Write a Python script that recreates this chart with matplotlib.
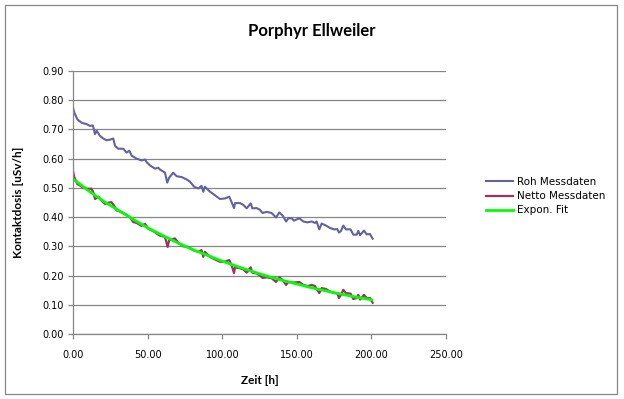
"""
Porphyr Ellweiler: Kontaktdosis ueber Zeit (Roh, Netto, Expon. Fit)

Run: python plot.py
"""

import matplotlib
matplotlib.use("Agg")
import matplotlib.pyplot as plt
from matplotlib.patches import Rectangle


# =============================================================================
# Data
# =============================================================================

roh_t = [0.0, 0.7, 2.7, 4.0, 5.6, 9.0, 11.2, 13.0, 13.9, 14.5, 15.7, 17.9,
         20.1, 22.4, 24.6, 26.8, 28.0, 30.2, 33.5, 35.8, 37.6, 39.2, 42.5,
         45.9, 48.1, 49.2, 51.4, 54.8, 57.0, 58.1, 61.5, 63.0, 64.3, 67.0,
         69.3, 72.7, 76.0, 78.3, 81.0, 83.9, 86.0, 87.2, 88.3, 91.7, 93.9,
         98.4, 101.8, 104.6, 106.2, 107.8, 108.5, 111.8, 114.0, 116.3, 119.0,
         120.1, 123.0, 125.2, 127.0, 129.7, 133.0, 136.0, 138.2, 140.5, 142.7,
         144.3, 146.5, 148.0, 151.6, 154.3, 157.0, 160.0, 162.1, 163.2, 165.0,
         166.6, 169.5, 172.2, 174.9, 177.1, 178.2, 179.6, 181.1, 182.9, 186.0,
         187.8, 190.1, 191.2, 192.3, 195.0, 196.8, 199.0, 200.8]
roh = [0.771, 0.757, 0.735, 0.729, 0.723, 0.718, 0.712, 0.714, 0.700, 0.684,
       0.695, 0.678, 0.669, 0.663, 0.665, 0.669, 0.644, 0.634, 0.634, 0.621,
       0.627, 0.610, 0.600, 0.594, 0.597, 0.588, 0.577, 0.566, 0.569, 0.563,
       0.552, 0.518, 0.535, 0.552, 0.540, 0.537, 0.529, 0.521, 0.504, 0.498,
       0.507, 0.487, 0.504, 0.487, 0.479, 0.462, 0.464, 0.470, 0.451, 0.431,
       0.448, 0.448, 0.442, 0.430, 0.447, 0.430, 0.431, 0.425, 0.414, 0.418,
       0.414, 0.399, 0.416, 0.405, 0.385, 0.396, 0.396, 0.388, 0.396, 0.385,
       0.382, 0.385, 0.380, 0.385, 0.358, 0.378, 0.371, 0.363, 0.358, 0.359,
       0.347, 0.353, 0.371, 0.358, 0.358, 0.340, 0.340, 0.353, 0.338, 0.354,
       0.341, 0.342, 0.326]

netto_t = [0.0, 0.5, 2.7, 4.5, 6.7, 10.0, 12.2, 13.4, 14.6, 16.8, 19.0, 21.3,
           24.1, 25.6, 27.3, 29.1, 32.5, 34.7, 38.0, 40.2, 42.5, 45.9, 48.1,
           50.3, 53.7, 57.0, 58.0, 61.5, 63.3, 64.3, 68.2, 70.4, 73.8, 77.1,
           80.5, 83.9, 86.0, 87.2, 88.3, 91.7, 95.0, 98.4, 101.8, 104.6, 106.2,
           107.8, 108.5, 111.8, 114.0, 116.3, 119.0, 120.1, 123.0, 125.2, 127.0,
           129.7, 133.0, 136.0, 138.2, 140.5, 142.7, 144.3, 147.6, 151.6, 154.3,
           157.0, 160.0, 162.1, 165.0, 166.6, 169.5, 172.2, 174.9, 177.1, 178.2,
           179.6, 181.1, 182.9, 186.0, 187.8, 190.1, 191.2, 192.3, 195.0, 196.8,
           199.0, 200.8]
netto = [0.553, 0.539, 0.513, 0.508, 0.500, 0.497, 0.497, 0.485, 0.462, 0.470,
         0.456, 0.445, 0.450, 0.451, 0.440, 0.423, 0.417, 0.411, 0.400, 0.383,
         0.380, 0.370, 0.377, 0.360, 0.352, 0.340, 0.337, 0.332, 0.298, 0.321,
         0.327, 0.312, 0.300, 0.298, 0.287, 0.281, 0.287, 0.264, 0.281, 0.264,
         0.255, 0.247, 0.248, 0.253, 0.235, 0.209, 0.228, 0.225, 0.221, 0.210,
         0.228, 0.210, 0.207, 0.200, 0.192, 0.194, 0.191, 0.178, 0.194, 0.184,
         0.168, 0.178, 0.176, 0.178, 0.168, 0.164, 0.168, 0.164, 0.140, 0.157,
         0.154, 0.145, 0.140, 0.140, 0.123, 0.134, 0.151, 0.140, 0.138, 0.120,
         0.123, 0.134, 0.118, 0.134, 0.123, 0.123, 0.107]

fit_t = [0, 10, 20, 30, 40, 50, 60, 70, 80, 90, 100, 110, 120, 130, 140, 150,
         160, 170, 180, 190, 200]
fit = [0.530, 0.491, 0.455, 0.424, 0.393, 0.363, 0.337, 0.312, 0.289, 0.269,
       0.249, 0.231, 0.214, 0.198, 0.184, 0.171, 0.158, 0.147, 0.136, 0.126,
       0.117]

x_ticks = [0, 50, 100, 150, 200, 250]
y_ticks = [0.0, 0.1, 0.2, 0.3, 0.4, 0.5, 0.6, 0.7, 0.8, 0.9]

labels = ["Roh Messdaten", "Netto Messdaten", "Expon. Fit"]
colors = ["#62629E", "#993366", "#00FF00"]


# =============================================================================
# Plot
# =============================================================================

W, H = 624, 399
fig = plt.figure(figsize=(W / 100, H / 100), dpi=100)

# Excel-style chart border
fig.patches.append(Rectangle((5 / W, 5 / H), 612 / W, 389 / H,
                             transform=fig.transFigure, fill=False,
                             edgecolor="#868686", linewidth=0.9))

ax = fig.add_axes([73.3 / W, (H - 334) / H, (446 - 73.3) / W, (334 - 71) / H])

ax.plot(roh_t, roh, color=colors[0], linewidth=1.5, label=labels[0])
ax.plot(netto_t, netto, color=colors[1], linewidth=1.6, label=labels[1])
ax.plot(fit_t, fit, color=colors[2], linewidth=2.0, label=labels[2])

ax.set_xlim(0, 250)
ax.set_ylim(0, 0.9)
ax.set_xticks(x_ticks)
ax.set_yticks(y_ticks)
ax.set_xticklabels([f"{v:.2f}" for v in x_ticks])
ax.set_yticklabels([f"{v:.2f}" for v in y_ticks])

ax.grid(axis="y", color="#868686", linewidth=0.9)
ax.set_axisbelow(True)
for side in ["top", "right"]:
    ax.spines[side].set_visible(False)
for side in ["left", "bottom"]:
    ax.spines[side].set_color("#868686")
    ax.spines[side].set_linewidth(0.9)

ax.tick_params(axis="y", direction="out", length=3.6, width=0.9,
               color="#868686", labelsize=7, pad=3.5)
ax.tick_params(axis="x", direction="out", length=3.6, width=0.9,
               color="#868686", labelsize=7, pad=8)

ax.set_xlabel("Zeit [h]", fontfamily="Lato", fontweight="bold", fontsize=8.5,
              labelpad=11)
ax.set_ylabel("Kontaktdosis [uSv/h]", fontfamily="Lato", fontweight="bold",
              fontsize=8.5, labelpad=13)

fig.text(312 / W, 1 - 31 / H, "Porphyr Ellweiler", fontfamily="Lato",
         fontweight="bold", fontsize=12, ha="center", va="center")

fig.legend(loc="upper left", bbox_to_anchor=(486 / W, 1 - 177 / H),
           frameon=False, fontsize=7.5, handlelength=2.6, handletextpad=0.35,
           labelspacing=0.4, borderpad=0, borderaxespad=0)

fig.savefig("out.png", dpi=100)
